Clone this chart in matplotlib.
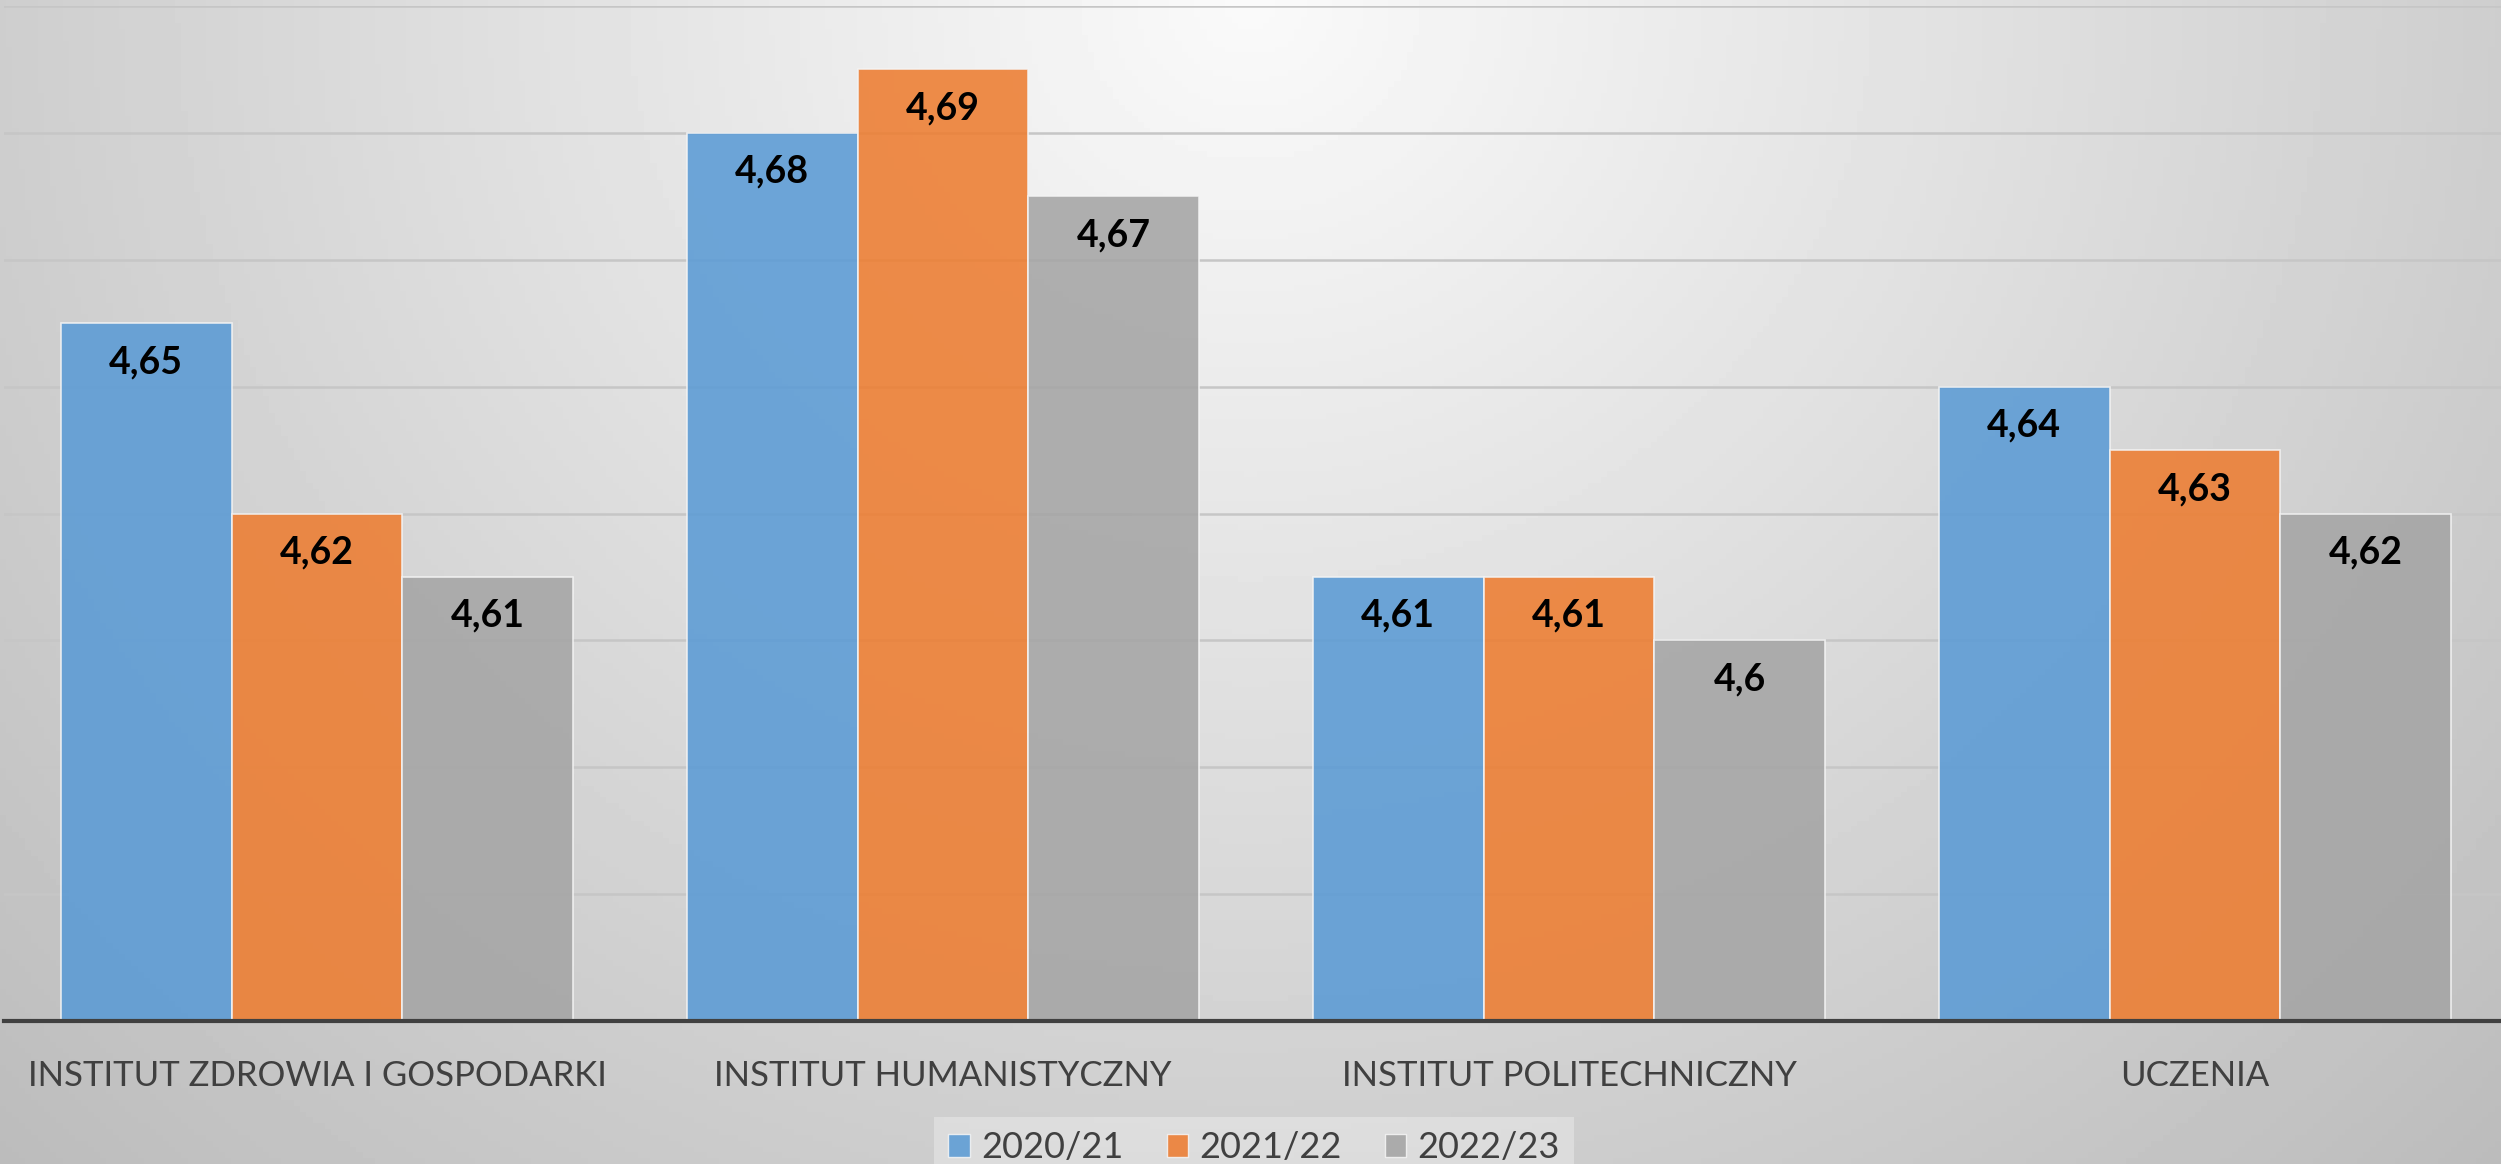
import numpy as np
import matplotlib
matplotlib.use('Agg')
import matplotlib.pyplot as plt
from matplotlib.patches import Patch

plt.rcParams['font.family'] = ['Lato', 'DejaVu Sans']

categories = ['INSTITUT ZDROWIA I GOSPODARKI', 'INSTITUT HUMANISTYCZNY',
              'INSTITUT POLITECHNICZNY', 'UCZENIA']
series_names = ['2020/21', '2021/22', '2022/23']
v2020 = [4.65, 4.68, 4.61, 4.64]
v2021 = [4.62, 4.69, 4.61, 4.63]
v2022 = [4.61, 4.67, 4.60, 4.62]
colors = ['#5b9bd5', '#ed7d31', '#a5a5a5']

W, H = 2501, 1164
fig = plt.figure(figsize=(W / 100, H / 100), dpi=100)

# radial grey background, light at top centre
bg = fig.add_axes([0, 0, 1, 1], zorder=-10)
gx, gy = np.meshgrid(np.linspace(0, 1, 400), np.linspace(0, 1, 200))
d = np.sqrt(((gx - 0.5) / 0.5) ** 2 + gy ** 2)
shade = np.clip(250 - 44 * d, 0, 255) / 255.0
bg.imshow(shade, cmap='gray', vmin=0, vmax=1, aspect='auto', extent=[0, 1, 1, 0])
bg.set_axis_off()

ax = fig.add_axes([4 / W, (H - 1021) / H, 2504 / W, (1021 - 6) / H])
ax.set_facecolor('none')

x = np.arange(len(categories))
bw = 0.273
for i, (vals, name) in enumerate(zip([v2020, v2021, v2022], series_names)):
    bars = ax.bar(x + (i - 1) * bw, vals, bw, bottom=0, color=colors[i], alpha=0.88,
                  edgecolor='#f4f4f4', linewidth=1.2, label=name, zorder=2)
    for b, v in zip(bars, vals):
        ax.annotate(f'{v:g}'.replace('.', ','), (b.get_x() + b.get_width() / 2, v),
                    xytext=(0, -39), textcoords='offset pixels', ha='center', va='center',
                    fontsize=27, fontweight='bold', color='black', zorder=3)

ax.set_xlim(-0.5, len(categories) - 0.5)
ax.set_ylim(4.54, 4.70)
ax.set_yticks(np.arange(4.54, 4.7001, 0.02))
ax.yaxis.grid(True, color='#c6c6c6', linewidth=1.8)
ax.set_axisbelow(True)
ax.tick_params(axis='y', left=False, labelleft=False)
ax.tick_params(axis='x', length=0, pad=28, labelsize=25, labelcolor='#404040')
ax.set_xticks(x)
ax.set_xticklabels(categories)
for s in ['top', 'right', 'left']:
    ax.spines[s].set_visible(False)
ax.spines['bottom'].set_color('#404040')
ax.spines['bottom'].set_linewidth(3)
ax.spines['bottom'].set_zorder(4)

handles = [Patch(facecolor=c, edgecolor='#f4f4f4', alpha=0.88) for c in colors]
leg = fig.legend(handles, series_names, loc='center', bbox_to_anchor=(1254 / W, 1 - 1148 / H),
                 ncol=3, fontsize=26, frameon=True, fancybox=False, handlelength=0.6,
                 handleheight=0.6, handletextpad=0.3, columnspacing=1.2, labelcolor='#404040',
                 borderpad=0.4)
leg.get_frame().set_facecolor('white')
leg.get_frame().set_alpha(0.3)
leg.get_frame().set_edgecolor('none')

fig.savefig('out.png', dpi=100)
